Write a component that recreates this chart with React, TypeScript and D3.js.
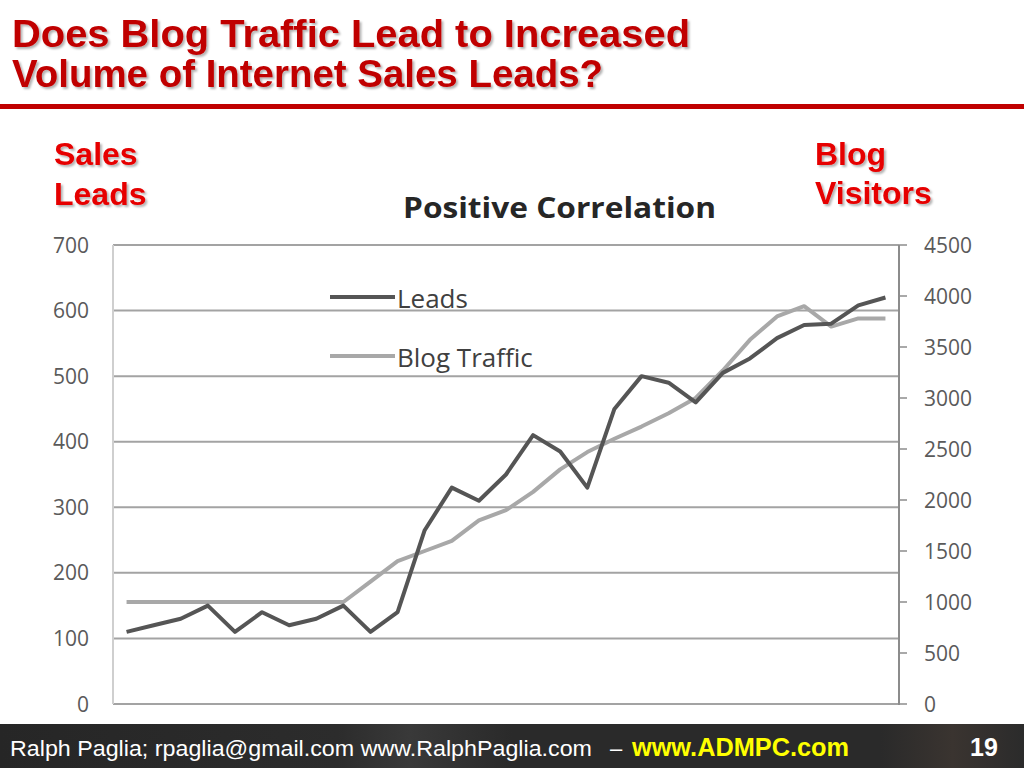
import React, { useEffect, useRef } from "react";
import * as d3 from "d3";

// one point per period
const leads = [
	110, 120, 130, 150, 110, 140, 120, 130, 150, 110, 140, 265, 330, 310, 350,
	410, 385, 330, 450, 500, 490, 460, 505, 527, 558, 578, 580, 608, 620,
];
const blogTraffic = [
	1000, 1000, 1000, 1000, 1000, 1000, 1000, 1000, 1000, 1200, 1400, 1500, 1600,
	1800, 1900, 2080, 2300, 2470, 2600, 2720, 2850, 3000, 3270, 3570, 3800, 3900,
	3700, 3780, 3780,
];
const leftTicks = [0, 100, 200, 300, 400, 500, 600, 700];
const rightTicks = [0, 500, 1000, 1500, 2000, 2500, 3000, 3500, 4000, 4500];
const seriesNames = ["Leads", "Blog Traffic"];

const App: React.FC = () => {
	const svgRef = useRef<SVGSVGElement>(null);

	useEffect(() => {
		if (!svgRef.current) return;
		const svg = d3.select(svgRef.current);
		svg.selectAll("*").remove();

		const W = 1024;
		const H = 768;
		const plot = { left: 113, right: 899, top: 245, bottom: 704 };
		const labelFont = "'Open Sans', 'DejaVu Sans', sans-serif";
		const headFont = "'Liberation Sans', Arial, sans-serif";

		svg.append("rect").attr("width", W).attr("height", H).attr("fill", "#fff");

		const defs = svg.append("defs");
		const grad = defs
			.append("linearGradient")
			.attr("id", "foot")
			.attr("x1", "0")
			.attr("x2", "1")
			.attr("y1", "0")
			.attr("y2", "0");
		grad.append("stop").attr("offset", "0").attr("stop-color", "#262626");
		grad.append("stop").attr("offset", "0.33").attr("stop-color", "#2c2c2c");
		grad.append("stop").attr("offset", "0.4").attr("stop-color", "#393939");
		grad.append("stop").attr("offset", "0.5").attr("stop-color", "#2a2a2a");
		grad.append("stop").attr("offset", "0.86").attr("stop-color", "#2a2a2a");
		grad.append("stop").attr("offset", "0.93").attr("stop-color", "#3a3430");
		grad.append("stop").attr("offset", "1").attr("stop-color", "#2b2b2b");

		// soft drop shadow for the red headings
		defs
			.append("filter")
			.attr("id", "shadow")
			.attr("x", "-5%")
			.attr("y", "-20%")
			.attr("width", "110%")
			.attr("height", "150%")
			.append("feDropShadow")
			.attr("dx", 2)
			.attr("dy", 2)
			.attr("stdDeviation", 1)
			.attr("flood-color", "#000")
			.attr("flood-opacity", 0.3);

		const titleLines = [
			{ t: "Does Blog Traffic Lead to Increased", y: 47, w: 678 },
			{ t: "Volume of Internet Sales Leads?", y: 87, w: 591 },
		];
		titleLines.forEach((l) => {
			svg
				.append("text")
				.attr("x", 12)
				.attr("y", l.y)
				.attr("font-family", headFont)
				.attr("font-weight", "bold")
				.attr("font-size", 39)
				.attr("textLength", l.w)
				.attr("lengthAdjust", "spacingAndGlyphs")
				.attr("fill", "#c00000")
				.attr("filter", "url(#shadow)")
				.text(l.t);
		});

		svg
			.append("rect")
			.attr("x", 0)
			.attr("y", 104)
			.attr("width", W)
			.attr("height", 5)
			.attr("fill", "#c00000");

		// axis captions
		const captions = [
			{ t: "Sales", x: 54, y: 165 },
			{ t: "Leads", x: 54, y: 205 },
			{ t: "Blog", x: 815, y: 165 },
			{ t: "Visitors", x: 815, y: 204 },
		];
		svg
			.append("g")
			.selectAll("text")
			.data(captions)
			.join("text")
			.attr("x", (d) => d.x)
			.attr("y", (d) => d.y)
			.attr("font-family", headFont)
			.attr("font-weight", "bold")
			.attr("font-size", 32)
			.attr("fill", "#e60000")
			.attr("filter", "url(#shadow)")
			.text((d) => d.t);

		svg
			.append("text")
			.attr("x", 403)
			.attr("y", 218)
			.attr("font-family", labelFont)
			.attr("font-weight", "bold")
			.attr("font-size", 28)
			.attr("textLength", 313)
			.attr("lengthAdjust", "spacingAndGlyphs")
			.attr("fill", "#262626")
			.text("Positive Correlation");

		const x = d3
			.scaleBand<number>()
			.domain(d3.range(leads.length))
			.range([plot.left, plot.right]);
		const cx = (i: number) => (x(i) || 0) + x.bandwidth() / 2;

		const yLeft = d3
			.scaleLinear()
			.domain([0, 700])
			.range([plot.bottom, plot.top]);
		const yRight = d3
			.scaleLinear()
			.domain([0, 4500])
			.range([plot.bottom, plot.top]);

		const g = svg.append("g");

		// gridlines
		g.append("g")
			.selectAll("line")
			.data(leftTicks)
			.join("line")
			.attr("x1", plot.left)
			.attr("x2", plot.right)
			.attr("y1", (d) => yLeft(d))
			.attr("y2", (d) => yLeft(d))
			.attr("stroke", "#a3a3a3")
			.attr("stroke-width", 2);

		g.append("line")
			.attr("x1", plot.left)
			.attr("x2", plot.left)
			.attr("y1", plot.top)
			.attr("y2", plot.bottom)
			.attr("stroke", "#cfcfcf")
			.attr("stroke-width", 2);

		g.append("line")
			.attr("x1", plot.right)
			.attr("x2", plot.right)
			.attr("y1", plot.top)
			.attr("y2", plot.bottom + 1)
			.attr("stroke", "#8c8c8c")
			.attr("stroke-width", 2);

		g.append("g")
			.selectAll("line")
			.data(rightTicks)
			.join("line")
			.attr("x1", plot.right)
			.attr("x2", plot.right + 8)
			.attr("y1", (d) => yRight(d))
			.attr("y2", (d) => yRight(d))
			.attr("stroke", "#8c8c8c")
			.attr("stroke-width", 1.5);

		// tick labels
		g.append("g")
			.selectAll("text")
			.data(leftTicks)
			.join("text")
			.attr("x", 89)
			.attr("y", (d) => yLeft(d))
			.attr("dy", "0.36em")
			.attr("text-anchor", "end")
			.attr("font-family", labelFont)
			.attr("font-size", 21)
			.attr("fill", "#5a5a5a")
			.text((d) => d);

		g.append("g")
			.selectAll("text")
			.data(rightTicks)
			.join("text")
			.attr("x", 924)
			.attr("y", (d) => yRight(d))
			.attr("dy", "0.36em")
			.attr("font-family", labelFont)
			.attr("font-size", 21)
			.attr("fill", "#5a5a5a")
			.text((d) => d);

		// series
		const colors = ["#555555", "#a8a8a8"];
		const leadLine = d3
			.line<number>()
			.x((_, i) => cx(i))
			.y((d) => yLeft(d));
		const trafficLine = d3
			.line<number>()
			.x((_, i) => cx(i))
			.y((d) => yRight(d));

		g.append("path")
			.attr("d", trafficLine(blogTraffic) || "")
			.attr("fill", "none")
			.attr("stroke", colors[1])
			.attr("stroke-width", 4)
			.attr("stroke-linejoin", "round");

		g.append("path")
			.attr("d", leadLine(leads) || "")
			.attr("fill", "none")
			.attr("stroke", colors[0])
			.attr("stroke-width", 4)
			.attr("stroke-linejoin", "round");

		// legend
		const legend = g
			.append("g")
			.selectAll("g")
			.data(seriesNames)
			.join("g")
			.attr("transform", (d, i) => `translate(330,${297 + i * 59})`);

		legend
			.append("line")
			.attr("x1", 0)
			.attr("x2", 65)
			.attr("stroke", (d, i) => colors[i])
			.attr("stroke-width", 4);

		legend
			.append("text")
			.attr("x", 67)
			.attr("y", 11)
			.attr("font-family", labelFont)
			.attr("font-size", 26)
			.attr("fill", "#404040")
			.text((d) => d);

		// footer band
		svg
			.append("rect")
			.attr("x", 0)
			.attr("y", 724)
			.attr("width", W)
			.attr("height", H - 724)
			.attr("fill", "url(#foot)");

		svg
			.append("text")
			.attr("x", 10)
			.attr("y", 756)
			.attr("font-family", headFont)
			.attr("font-size", 22)
			.attr("textLength", 582)
			.attr("lengthAdjust", "spacingAndGlyphs")
			.attr("fill", "#ffffff")
			.text("Ralph Paglia;  rpaglia@gmail.com  www.RalphPaglia.com");

		svg
			.append("text")
			.attr("x", 610)
			.attr("y", 756)
			.attr("font-family", headFont)
			.attr("font-size", 22)
			.attr("fill", "#ffffff")
			.text("–");

		svg
			.append("text")
			.attr("x", 632)
			.attr("y", 756)
			.attr("font-family", headFont)
			.attr("font-weight", "bold")
			.attr("font-size", 25)
			.attr("textLength", 217)
			.attr("lengthAdjust", "spacingAndGlyphs")
			.attr("fill", "#ffff00")
			.text("www.ADMPC.com");

		svg
			.append("text")
			.attr("x", 970)
			.attr("y", 756)
			.attr("font-family", headFont)
			.attr("font-weight", "bold")
			.attr("font-size", 25)
			.attr("fill", "#ffffff")
			.text("19");
	}, []);

	return (
		<svg
			ref={svgRef}
			width={1024}
			height={768}
			style={{ position: "absolute", left: 0, top: 0 }}
		/>
	);
};

export default App;
